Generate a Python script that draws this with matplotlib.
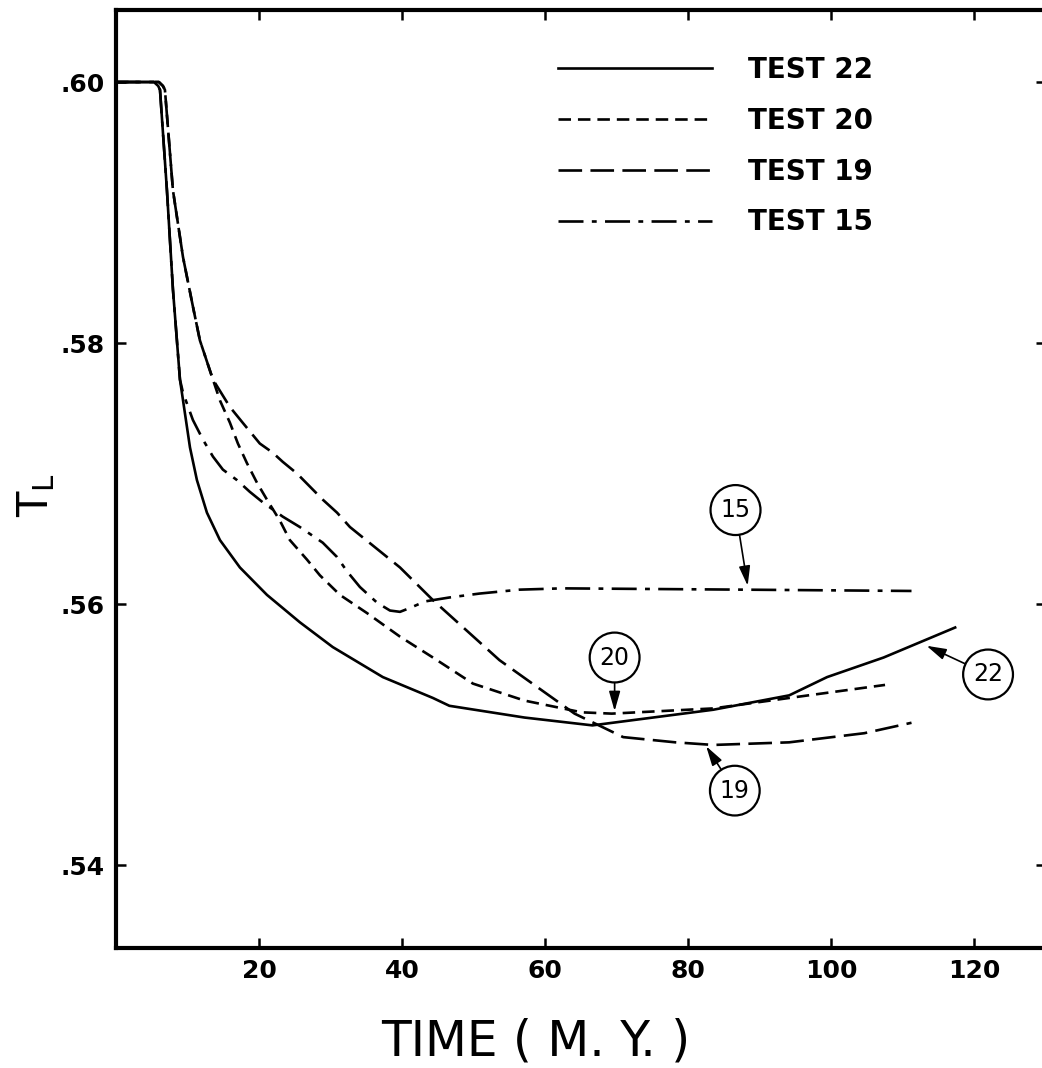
import matplotlib
matplotlib.use("Agg")
import matplotlib.pyplot as plt
from matplotlib.lines import Line2D

plt.rcParams['font.family'] = ['DejaVu Sans']
plt.rcParams['lines.scale_dashes'] = False

# ---- data ----
t22 = [0, 5.3, 5.9, 6.15, 7.12, 7.96, 8.94, 9.64, 10.34, 11.31, 12.71, 14.53, 17.32,
       21.1, 25.7, 30.3, 37.3, 44.3, 46.6, 57.1, 66.6, 83.5, 94.1, 99.4, 107.3, 117.3]
v22 = [.600, .600, .5997, .5994, .5917, .5841, .5772, .5746, .5720, .5695, .5670, .5649,
       .5628, .5607, .5586, .5567, .5544, .5528, .5522, .5513, .5507, .5519, .5530,
       .5544, .5559, .5582]

t20 = [0, 6.0, 6.56, 6.84, 7.96, 9.36, 10.75, 11.73, 13.55, 14.53, 15.92, 17.04, 18.3,
       19.7, 21.1, 22.9, 24.3, 26.7, 28.5, 31.3, 35.1, 39.7, 44.3, 49.9, 57.1, 65.1,
       69.3, 83.5, 94.1, 107.5]
v20 = [.600, .600, .5997, .5994, .5917, .5866, .5828, .5802, .5772, .5756, .5739, .5723,
       .5708, .5693, .5680, .5664, .5649, .5634, .5622, .5607, .5593, .5575, .5559,
       .5539, .5526, .5517, .5516, .5520, .5528, .5538]

t19 = [0, 6.0, 6.56, 6.84, 7.96, 9.36, 10.75, 11.73, 13.55, 15.92, 17.7, 20.1, 21.9,
       23.3, 25.3, 27.1, 28.9, 30.9, 32.7, 39.7, 44.3, 53.6, 64.1, 70.9, 78.2, 83.5,
       94.1, 104.6, 111.2]
v19 = [.600, .600, .5997, .5994, .5917, .5866, .5828, .5802, .5772, .5751, .5739, .5723,
       .5716, .5709, .5700, .5690, .5680, .5670, .5659, .5628, .5603, .5557, .5516,
       .5498, .5494, .5492, .5494, .5501, .5509]

t15 = [0, 5.3, 5.9, 6.15, 7.12, 7.96, 8.94, 9.36, 10.75, 12.15, 13.55, 14.94, 16.9,
       18.7, 20.5, 23.3, 25.7, 28.9, 30.9, 32.3, 34.1, 36.5, 38.3, 39.7, 41.1, 43.2,
       46.6, 50.8, 56.4, 62.4, 87.7, 111.2]
v15 = [.600, .600, .5997, .5994, .5917, .5841, .5772, .5762, .5741, .5726, .5713, .5703,
       .5695, .5686, .5678, .5667, .5659, .5647, .5636, .5625, .5613, .5601, .5595,
       .5594, .5597, .5602, .5605, .5608, .5611, .5612, .5611, .5610]

legend_labels = ['TEST 22', 'TEST 20', 'TEST 19', 'TEST 15']
xticks = [20, 40, 60, 80, 100, 120]
yticks = [.54, .56, .58, .60]
ytick_labels = ['.54', '.56', '.58', '.60']

# ---- figure ----
W, H = 1042, 1068
fig = plt.figure(figsize=(W / 100, H / 100), dpi=100)
ax = fig.add_axes([116 / W, 120 / H, 930 / W, 938 / H])
ax.set_xlim(0, 130)
ax.set_ylim(.53364, .60552)

lw = 1.9
ls20 = (0, (9, 5))
ls19 = (0, (17, 6))
ls15 = (0, (18, 6, 3.5, 6))

ax.plot(t15, v15, color='black', lw=lw, ls=ls15, zorder=2)
ax.plot(t19, v19, color='black', lw=lw, ls=ls19, zorder=2)
ax.plot(t20, v20, color='black', lw=lw, ls=ls20, zorder=2)
ax.plot(t22, v22, color='black', lw=lw, ls='-', zorder=3)

handles = [Line2D([], [], color='black', lw=lw, ls='-'),
           Line2D([], [], color='black', lw=lw, ls=ls20),
           Line2D([], [], color='black', lw=lw, ls=ls19),
           Line2D([], [], color='black', lw=lw, ls=ls15)]
ax.legend(handles, legend_labels, loc='upper left',
          bbox_to_anchor=(558 / W, 1 - 56 / H), bbox_transform=fig.transFigure,
          frameon=False, borderpad=0, borderaxespad=0, handlelength=5.54,
          handletextpad=1.3, labelspacing=0.82,
          prop={'size': 20, 'weight': 'bold'})

ax.set_xticks(xticks)
ax.set_xticklabels([str(v) for v in xticks])
ax.set_yticks(yticks)
ax.set_yticklabels(ytick_labels)
ax.tick_params(direction='in', length=7.5, width=1.8, top=True, right=True,
               labelsize=18, pad=8)
for lab in ax.get_xticklabels() + ax.get_yticklabels():
    lab.set_fontweight('bold')
for s in ax.spines.values():
    s.set_linewidth(3)

# axis labels
fig.text(36 / W, 1 - 495 / H, r'$\mathregular{T_L}$', rotation=90, ha='center',
         va='center', fontsize=30)
fig.text(536 / W, 1 - 1042 / H, 'TIME ( M. Y. )', ha='center', va='center',
         fontsize=35, family=['DejaVu Sans Condensed', 'Liberation Sans Narrow', 'DejaVu Sans'])

# circled annotations
ann = [('15', (88.3, .5614), (86.6, .5672)),
       ('20', (69.7, .5518), (69.7, .5559)),
       ('22', (113.3, .5568), (121.9, .5546)),
       ('19', (82.5, .5491), (86.5, .5457))]
for txt, tip, pos in ann:
    ax.annotate(txt, xy=tip, xytext=pos, ha='center', va='center', fontsize=17,
                bbox=dict(boxstyle='circle,pad=0.42', fc='white', ec='black', lw=1.6),
                arrowprops=dict(arrowstyle='-|>,head_length=0.7,head_width=0.2',
                                color='black', lw=1.2, shrinkA=0, shrinkB=0),
                zorder=5)

fig.savefig('out.png', dpi=100)
